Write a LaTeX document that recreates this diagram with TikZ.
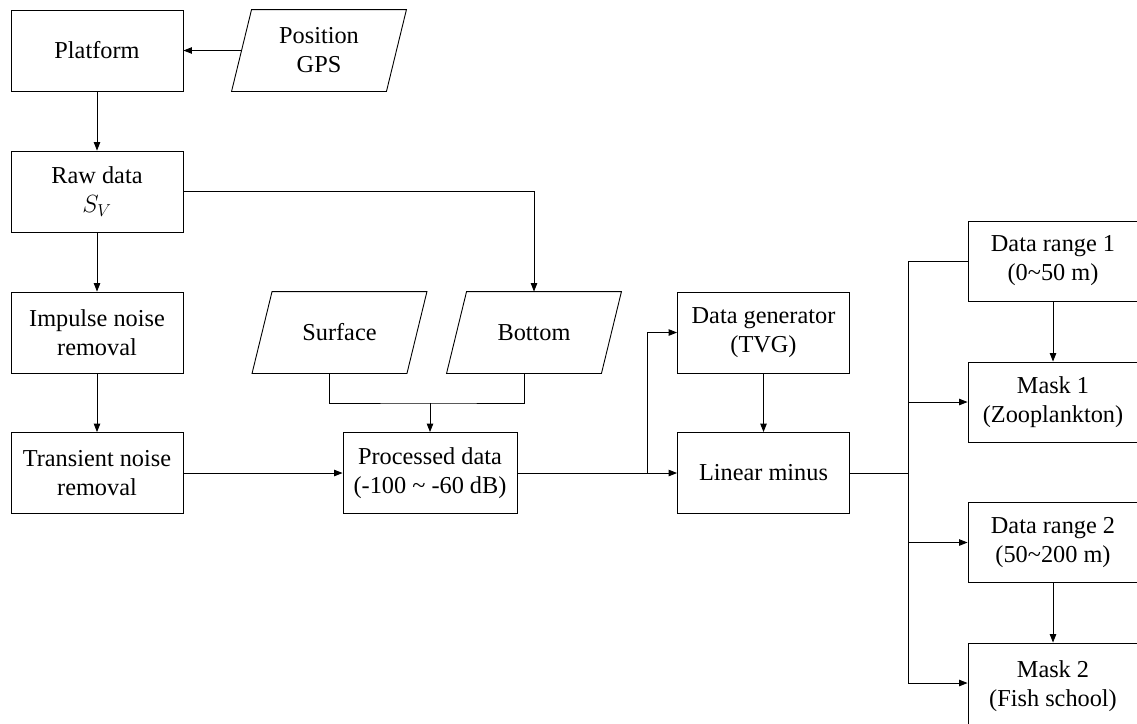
\documentclass[tikz,border=0pt]{standalone}
\usepackage{fontspec}
\setmainfont{Liberation Serif}
\usepackage{tikz}
\usetikzlibrary{arrows.meta,calc}
\tikzset{blk/.style={rectangle,draw,line width=.9pt,minimum width=172pt,minimum height=81pt,inner sep=2pt,align=center,font=\fontsize{24.3}{29}\selectfont}}
\tikzset{io/.style={blk,draw=none,minimum width=154pt}}
\tikzset{con/.style={line width=.9pt},>={Triangle[length=8.5pt,width=6.5pt]}}
% slanted input box round an io node
\newcommand\slantbox[1]{\draw[con] ($(#1.south west)+(-10,0)$) -- ($(#1.north west)+(10,0)$) -- ($(#1.north east)+(10,0)$) -- ($(#1.south east)+(-10,0)$) -- cycle;}

\begin{document}
\begin{tikzpicture}[x=1pt,y=-1pt]
\useasboundingbox (0,0) rectangle (1137,723);
\clip (0,0) rectangle (1137,723);
\node[blk] (plat) at (97,50.5) {Platform};
\node[io] (gps) at (319,50.5) {Position\\GPS};
\node[blk] (raw) at (97,191.5) {Raw data\\$S_V$};
\node[blk] (imp) at (97,332.5) {Impulse noise\\removal};
\node[blk] (trn) at (97,473) {Transient noise\\removal};
\node[io] (surf) at (339.5,332.5) {Surface};
\node[io] (bot) at (534,332.5) {Bottom};
\node[blk, minimum width=174pt] (proc) at (430,473) {Processed data\\(-100 \textasciitilde{} -60 dB)};
\node[blk] (tvg) at (763.5,332.5) {Data generator\\(TVG)};
\node[blk] (lin) at (763.5,473) {Linear minus};
\node[blk, minimum width=170pt, minimum height=80pt] (rng1) at (1053,261) {Data range 1\\(0\textasciitilde50 m)};
\node[blk, minimum width=170pt, minimum height=80pt] (msk1) at (1053,402) {Mask 1\\(Zooplankton)};
\node[blk, minimum width=170pt, minimum height=80pt] (rng2) at (1053,542.5) {Data range 2\\(50\textasciitilde200 m)};
\node[blk, minimum width=170pt, minimum height=86pt] (msk2) at (1053,686) {Mask 2\\(Fish school)};
\slantbox{gps}
\slantbox{surf}
\slantbox{bot}
% junctions
\coordinate (sb) at ($(surf.south)+(-10,0)$);
\coordinate (bb) at ($(bot.south)+(-10,0)$);
\coordinate (merge) at (430,403);
\coordinate (split) at (647,473);
\coordinate (bustop) at (908,261);
\coordinate (busbot) at (908,683);
\coordinate (busmid) at (908,473);
\draw[con,->] (gps.west) -- (plat.east);
\draw[con,->] (plat) -- (raw);
\draw[con,->] (raw.east) -| (bot.north);
\draw[con,->] (raw) -- (imp);
\draw[con,->] (imp) -- (trn);
\draw[con,->] (trn) -- (proc);
\draw[con] (sb) |- (merge) -| (bb);
\draw[con,->] (merge) -- (proc.north);
\draw[con,->] (proc) -- (lin);
\draw[con,->] (split) |- (tvg.west);
\draw[con,->] (tvg) -- (lin);
\draw[con] (lin.east) -- (busmid);
\draw[con] (rng1.west) -- (bustop) -- (busbot);
\draw[con,->] (bustop |- msk1.west) -- (msk1.west);
\draw[con,->] (bustop |- rng2.west) -- (rng2.west);
\draw[con,->] (busbot) -- (msk2.west |- busbot);
\draw[con,->] (rng1) -- (msk1);
\draw[con,->] (rng2) -- (msk2);
\end{tikzpicture}
\end{document}
